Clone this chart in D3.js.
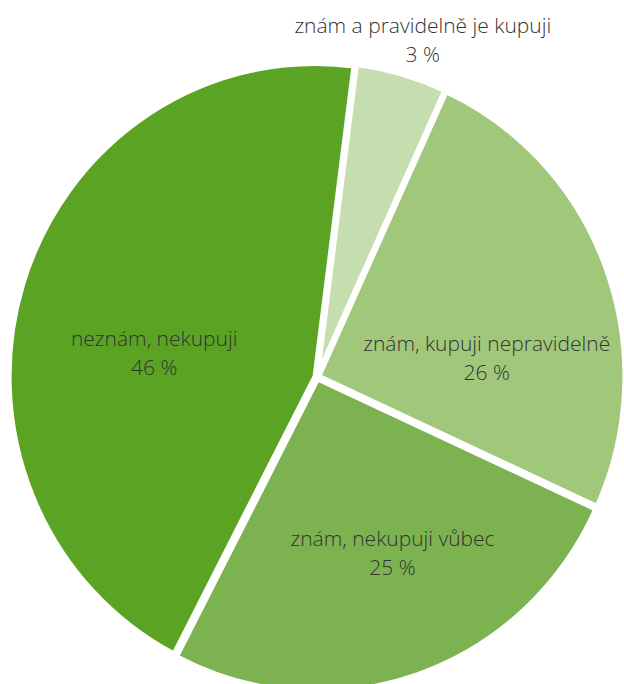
<!DOCTYPE html>
<html>
<head>
<meta charset="utf-8">
<script src="https://cdn.jsdelivr.net/npm/d3@7"></script>
<style>
  html, body { margin: 0; padding: 0; background: #fff; }
  svg { display: block; }
</style>
</head>
<body>
<div id="chart"></div>
<script>
// Kategorie v pořadí po směru hodinových ručiček od vrcholu
const categories = [
  'znám a pravidelně je kupuji',
  'znám, kupuji nepravidelně',
  'znám, nekupuji vůbec',
  'neznám, nekupuji'
]
// Popisky hodnot tak, jak jsou v grafu
const percentLabels = [3, 26, 25, 46]
// Velikost výsečí (podíl v %)
const shares = [4.8, 25.0, 25.8, 44.4]
const colors = ['#c6ddb0', '#a1c77a', '#7cb350', '#5ba423']

const width = 624, height = 684
const cx = 317, cy = 377
const r = 306
const yScale = 313 / 306   // graf je mírně protažený svisle
const start = 7.3 * Math.PI / 180

const svg = d3.select('#chart').append('svg')
  .attr('width', width).attr('height', height)

const g = svg.append('g')
  .attr('transform', `translate(${cx},${cy}) scale(1,${yScale})`)

const pie = d3.pie()
  .sort(null)
  .value(d => d.share)
  .startAngle(start)
  .endAngle(start + 2 * Math.PI)

const data = categories.map((c, i) => ({
  name: c, pct: percentLabels[i], share: shares[i], color: colors[i]
}))
const arcs = pie(data)

const arc = d3.arc().innerRadius(0).outerRadius(r)

// mírné vysunutí výsečí
const explode = 2
g.selectAll('path')
  .data(arcs)
  .join('path')
  .attr('transform', d => {
    const a = (d.startAngle + d.endAngle) / 2
    return `translate(${Math.sin(a) * explode},${-Math.cos(a) * explode})`
  })
  .attr('d', arc)
  .attr('fill', d => d.data.color)
  .attr('stroke', '#fff')
  .attr('stroke-width', 5)
  .attr('stroke-linejoin', 'miter')

// Popisky
const inner = d3.arc().innerRadius(0).outerRadius(2 * 180)  // centroid v r=180
const outer = d3.arc().innerRadius(0).outerRadius(2 * 338)
// doladění popisků (Excel "nejlepší umístění")
const nudge = [[13, 2], [1, 52], [17, 9], [9, 38]]

const labels = svg.append('g')
  .attr('font-family', "'Open Sans', 'Noto Sans', sans-serif")
  .attr('font-weight', 300)
  .attr('font-size', 21)
  .attr('fill', '#333')
  .attr('text-anchor', 'middle')

arcs.forEach((d, i) => {
  const c = (i === 0 ? outer : inner).centroid(d)
  const x = cx + c[0] + nudge[i][0]
  const y = cy + c[1] * yScale + nudge[i][1]
  const t = labels.append('text').attr('x', x).attr('y', y - 14)
  t.append('tspan').attr('x', x).attr('dy', 0).text(d.data.name)
  t.append('tspan').attr('x', x).attr('dy', 29).text(`${d.data.pct} %`)
})
</script>
</body>
</html>
